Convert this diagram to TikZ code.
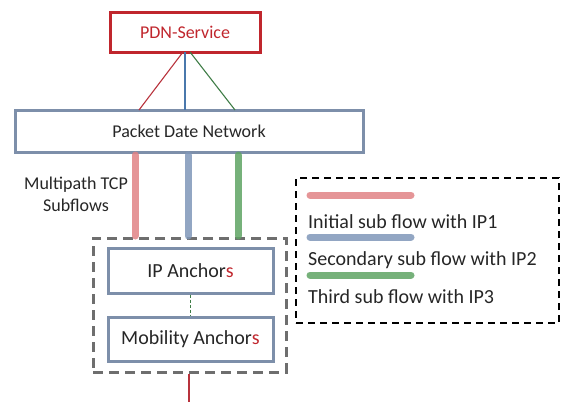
\documentclass[tikz,border=0pt]{standalone}
\usepackage{fontspec}
\setmainfont{Carlito}
\definecolor{boxblue}{HTML}{7D8FAA}
\definecolor{pdnred}{HTML}{C0262D}
\definecolor{txt}{HTML}{262626}
\definecolor{flowred}{HTML}{E08285}
\definecolor{flowblue}{HTML}{7F96B8}
\definecolor{flowgreen}{HTML}{5EA363}
\definecolor{thinred}{HTML}{B8323C}
\definecolor{thinblue}{HTML}{4A78AC}
\definecolor{thingreen}{HTML}{3F7D47}
\definecolor{dashgray}{HTML}{6E6E6E}
\tikzset{
  boxnode/.style={draw=boxblue, line width=3pt, minimum width=#1, inner sep=0pt, text=txt},
  flow/.style={line width=7pt, line cap=round, opacity=0.85},
}
\begin{document}
\begin{tikzpicture}[x=1pt,y=-1pt]
\useasboundingbox (0,0) rectangle (562,402);
% PDN service
\node[draw=pdnred, line width=3pt, minimum width=150pt, minimum height=40pt, inner sep=0pt, text=pdnred, font=\fontsize{18}{20}\selectfont] (pdn) at (185,32) {PDN-Service};
% Packet network
\node[boxnode=348pt, minimum height=42pt, font=\fontsize{18}{20}\selectfont] (pdnet) at (189,131) {Packet Date Network};
% thin connectors
\coordinate (pr) at (183,52);
\coordinate (pb) at (185,52);
\coordinate (pg) at (190,52);
\coordinate (nr) at (139,110);
\coordinate (nb) at (185,110);
\coordinate (ng) at (235,110);
\draw[thinred, line width=1.1pt] (pr) -- (nr);
\draw[thinblue, line width=1.1pt] (pb) -- (nb);
\draw[thingreen, line width=1.1pt] (pg) -- (ng);
% dashed anchor group
\node[draw=dashgray, line width=3pt, dash pattern=on 10pt off 6pt, minimum width=193pt, minimum height=134pt, inner sep=0pt] (grp) at (189.5,305) {};
% flows
\coordinate (fr1) at (135,155);
\coordinate (fr2) at (135,236);
\coordinate (fb1) at (188,155);
\coordinate (fb2) at (188,236);
\coordinate (fg1) at (238,155);
\coordinate (fg2) at (238,236);
\draw[flow, flowred] (fr1) -- (fr2);
\draw[flow, flowblue] (fb1) -- (fb2);
\draw[flow, flowgreen] (fg1) -- (fg2);
% label
\node[align=center, text=txt, font=\fontsize{18}{22}\selectfont] (mp) at (76,194) {Multipath TCP\\Subflows};
% anchors
\node[boxnode=165pt, minimum height=45pt, font=\fontsize{20}{22}\selectfont] (ipa) at (190.5,270.5) {IP Anchor\textcolor{pdnred}{s}};
\node[boxnode=165pt, minimum height=44pt, font=\fontsize{20}{22}\selectfont] (moa) at (190.5,339) {Mobility Anchor\textcolor{pdnred}{s}};
\draw[thingreen, line width=1pt, dash pattern=on 3pt off 2pt] (ipa) -- (moa);
\coordinate (bottom) at (189,402);
\draw[thinred, line width=1.3pt] (grp.south -| bottom) -- (bottom);
% legend
\node[draw=black, line width=2.2pt, dash pattern=on 7pt off 5pt, minimum width=263pt, minimum height=145pt, inner sep=0pt] (leg) at (427.5,250.5) {};
\coordinate (lr1) at (310,195);
\coordinate (lr2) at (411,195);
\coordinate (lb1) at (310,237);
\coordinate (lb2) at (411,237);
\coordinate (lg1) at (310,275);
\coordinate (lg2) at (411,275);
\draw[flow, flowred] (lr1) -- (lr2);
\draw[flow, flowblue] (lb1) -- (lb2);
\draw[flow, flowgreen] (lg1) -- (lg2);
\node[anchor=west, inner sep=0pt, text=txt, font=\fontsize{20}{22}\selectfont] (t1) at (308,222) {Initial sub flow with IP1};
\node[anchor=west, inner sep=0pt, text=txt, font=\fontsize{20}{22}\selectfont] (t2) at (308,260) {Secondary sub flow with IP2};
\node[anchor=west, inner sep=0pt, text=txt, font=\fontsize{20}{22}\selectfont] (t3) at (308,297) {Third sub flow with IP3};
\end{tikzpicture}
\end{document}
